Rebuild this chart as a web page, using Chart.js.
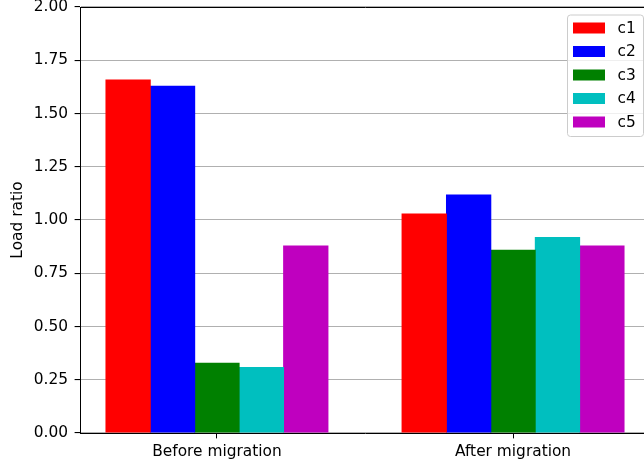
<!DOCTYPE html>
<html>
<head>
<meta charset="utf-8">
<script src="https://cdn.jsdelivr.net/npm/chart.js@4/dist/chart.umd.min.js"></script>
<style>
  html, body { margin: 0; padding: 0; background: #fff; overflow: hidden; }
  #wrap { width: 652px; height: 463px; }
</style>
</head>
<body>
<div id="wrap"><canvas id="chart" width="652" height="463"></canvas></div>
<script>
// Categories and per-series load ratios
const categories = ['Before migration', 'After migration'];
const seriesNames = ['c1', 'c2', 'c3', 'c4', 'c5'];
const c1 = [1.66, 1.03];
const c2 = [1.63, 1.12];
const c3 = [0.33, 0.86];
const c4 = [0.31, 0.92];
const c5 = [0.88, 0.88];
const yTickValues = [0, 0.25, 0.5, 0.75, 1.0, 1.25, 1.5, 1.75, 2.0];
const seriesColors = ['#ff0000', '#0000ff', '#008000', '#00bfbf', '#bf00bf'];

const seriesValues = [c1, c2, c3, c4, c5];
const FONT = { family: 'DejaVu Sans', size: 15.4 };

Chart.defaults.color = '#000';
Chart.defaults.font.family = FONT.family;
Chart.defaults.font.size = FONT.size;

// Box around the plot area (top and right spines)
const frame = {
  id: 'frame',
  afterDraw(chart) {
    const { ctx, chartArea: a } = chart;
    ctx.save();
    ctx.strokeStyle = '#000';
    ctx.lineWidth = 1;
    ctx.beginPath();
    ctx.moveTo(Math.round(a.left) + 0.5, Math.round(a.top) + 0.5);
    ctx.lineTo(Math.round(a.right) + 0.5, Math.round(a.top) + 0.5);
    ctx.lineTo(Math.round(a.right) + 0.5, Math.round(a.bottom) + 0.5);
    ctx.stroke();
    ctx.restore();
  }
};

// Legend drawn inside the upper-right corner of the plot area
const innerLegend = {
  id: 'innerLegend',
  afterDraw(chart) {
    const { ctx, chartArea: a } = chart;
    const ds = chart.data.datasets;
    const pad = 7, rowH = 23.5, patchW = 32, patchH = 11;
    const boxW = 76, boxH = 121.5;
    const x0 = a.right - pad - boxW, y0 = a.top + pad + 0.5;
    ctx.save();
    ctx.beginPath();
    ctx.roundRect(x0 + 0.5, y0 + 0.5, boxW, boxH, 3);
    ctx.fillStyle = 'rgba(255,255,255,0.8)';
    ctx.fill();
    ctx.strokeStyle = '#cccccc';
    ctx.lineWidth = 1;
    ctx.stroke();
    ctx.font = FONT.size + 'px "' + FONT.family + '"';
    ctx.textBaseline = 'middle';
    ctx.textAlign = 'left';
    ds.forEach((d, i) => {
      const py = y0 + 8 + i * rowH;
      ctx.fillStyle = d.backgroundColor;
      ctx.fillRect(x0 + 6, py, patchW, patchH);
      ctx.fillStyle = '#000';
      ctx.fillText(d.label, x0 + 50.5, py + patchH / 2 + 0.5);
    });
    ctx.restore();
  }
};

new Chart(document.getElementById('chart'), {
  type: 'bar',
  data: {
    datasets: seriesNames.map((name, s) => ({
      label: name,
      data: categories.map((_, i) => ({ x: i, y: seriesValues[s][i] })),
      backgroundColor: seriesColors[s],
      borderWidth: 0,
      categoryPercentage: 0.75,
      // slight overlap so neighbouring bars meet without a seam
      barPercentage: 1.02
    }))
  },
  options: {
    responsive: false,
    animation: false,
    layout: { padding: { top: 7, right: 2, left: 0, bottom: 0 } },
    plugins: {
      legend: { display: false },
      tooltip: { enabled: false }
    },
    scales: {
      x: {
        type: 'linear',
        offset: false,
        min: -0.4625,
        max: 1.4625,
        z: 2,
        afterBuildTicks(scale) {
          scale.ticks = categories.map((_, i) => ({ value: i }));
        },
        afterFit(scale) {
          scale.height = 30;
          scale.paddingLeft = 0;
          scale.paddingRight = 0;
        },
        ticks: {
          callback: (v) => categories[v],
          padding: 5.5,
          maxRotation: 0,
          autoSkip: false,
          color: '#000',
          font: { family: FONT.family, size: FONT.size, lineHeight: 1 }
        },
        grid: {
          offset: false,
          drawOnChartArea: false,
          drawTicks: true,
          tickLength: 5.4,
          tickColor: '#000'
        },
        border: { color: '#000', width: 1 }
      },
      y: {
        min: 0,
        max: 2,
        z: 1,
        afterBuildTicks(scale) {
          scale.ticks = yTickValues.map(v => ({ value: v }));
        },
        afterFit(scale) {
          scale.width = 80;
          scale.paddingTop = 0;
          scale.paddingBottom = 0;
        },
        ticks: {
          callback: (v) => v.toFixed(2),
          padding: 6.5,
          color: '#000',
          font: { family: FONT.family, size: FONT.size, lineHeight: 1 }
        },
        grid: {
          color: '#b0b0b0',
          lineWidth: 1.1,
          drawTicks: true,
          tickLength: 5.4,
          tickColor: '#000'
        },
        border: { color: '#000', width: 1 },
        title: {
          display: true,
          text: 'Load ratio',
          color: '#000',
          font: FONT,
          padding: { top: 9, bottom: 0 }
        }
      }
    }
  },
  plugins: [frame, innerLegend]
});
</script>
</body>
</html>
